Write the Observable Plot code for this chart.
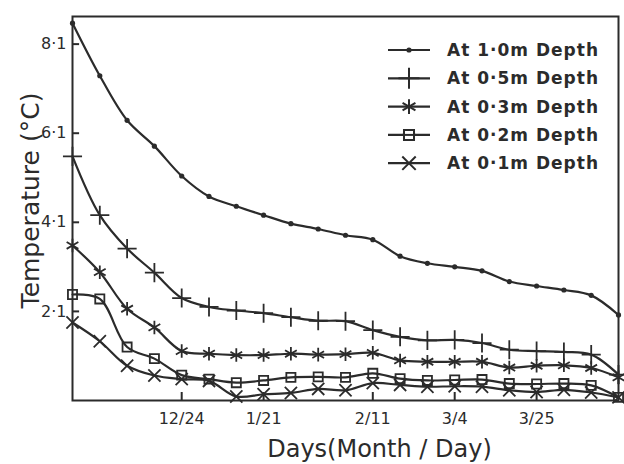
<!DOCTYPE html>
<html>
<head>
<meta charset="utf-8">
<script src="https://cdn.jsdelivr.net/npm/d3@7"></script>
<script src="https://cdn.jsdelivr.net/npm/@observablehq/plot@0.6"></script>
<style>
  body { margin: 0; background: #fff; }
  #wrap { position: relative; width: 624px; height: 464px; overflow: hidden; }
  #legend { position: absolute; left: 380px; top: 30px; }
</style>
</head>
<body>
<div id="wrap"></div>
<script>
// Week index of each measurement (weekly readings)
const week = [0,1,2,3,4,5,6,7,8,9,10,11,12,13,14,15,16,17,18,19,20];

// Temperatures (°C)
const depth10 = [8.57,7.39,6.39,5.81,5.14,4.68,4.46,4.26,4.07,3.95,3.81,3.71,3.34,3.18,3.10,3.01,2.77,2.67,2.58,2.46,2.02];
const depth05 = [5.58,4.26,3.51,2.97,2.40,2.20,2.12,2.06,1.97,1.89,1.88,1.68,1.53,1.45,1.46,1.39,1.24,1.21,1.19,1.13,0.68];
const depth03 = [3.58,2.98,2.16,1.74,1.21,1.15,1.12,1.12,1.15,1.13,1.14,1.17,1.00,0.97,0.97,0.97,0.84,0.88,0.89,0.83,0.62];
const depth02 = [2.48,2.38,1.30,1.04,0.67,0.58,0.50,0.55,0.62,0.63,0.62,0.71,0.59,0.55,0.56,0.57,0.48,0.47,0.48,0.44,0.17];
const depth01 = [1.85,1.43,0.88,0.66,0.58,0.54,0.19,0.24,0.27,0.36,0.33,0.49,0.45,0.41,0.42,0.41,0.33,0.29,0.34,0.28,0.17];

const seriesNames = ["At 1·0m Depth","At 0·5m Depth","At 0·3m Depth","At 0·2m Depth","At 0·1m Depth"];
const seriesSymbols = ["circle","plus","asterisk","square2","times"];
const seriesValues = [depth10, depth05, depth03, depth02, depth01];

// Axis ticks
const xTickPos = [4, 7, 11, 14, 17];
const xTickLabels = ["12/24", "1/21", "2/11", "3/4", "3/25"];
const yTicks = [2.1, 4.1, 6.1, 8.1];
const yTickLabels = ["2·1", "4·1", "6·1", "8·1"];

const ink = "#2b2b2b";
const symR = {circle: 2.6, plus: 6.2, asterisk: 6.4, square2: 5.8, times: 5.6};

const marks = [
  Plot.frame({stroke: ink, strokeWidth: 2}),
  Plot.axisY(yTicks, {tickSize: 0, tickPadding: 6, fontSize: 16, label: null,
    tickFormat: d => yTickLabels[yTicks.indexOf(d)]}),
  Plot.axisX(xTickPos, {tickSize: 0, tickPadding: 12, fontSize: 16, label: null,
    tickFormat: d => xTickLabels[xTickPos.indexOf(d)]}),
  Plot.ruleY(yTicks, {y: d => d, x1: 0, x2: 0.26, stroke: ink, strokeWidth: 2}),
  Plot.ruleX(xTickPos, {x: d => d, y1: 0.1, y2: 0.28, stroke: ink, strokeWidth: 2}),
  Plot.text(["Days(Month / Day)"], {frameAnchor: "bottom", dx: 34, dy: 56, fontSize: 24, fill: ink}),
  Plot.text(["Temperature (°C)"], {frameAnchor: "left", textAnchor: "middle", rotate: -90, dx: -42, dy: -8, fontSize: 25, fill: ink})
];

seriesNames.forEach((name, s) => {
  const rows = week.map((w, i) => ({week: w, temp: seriesValues[s][i], depth: name}));
  marks.push(Plot.line(rows, {x: "week", y: "temp", curve: "catmull-rom", stroke: ink, strokeWidth: 2.2}));
  const sym = seriesSymbols[s];
  if (sym === "circle") {
    marks.push(Plot.dot(rows, {x: "week", y: "temp", r: symR.circle, fill: ink}));
  } else {
    marks.push(Plot.dot(rows, {x: "week", y: "temp", r: symR[sym], symbol: sym, stroke: ink, strokeWidth: 1.8}));
  }
});

const chart = Plot.plot({
  width: 624,
  height: 464,
  marginLeft: 72,
  marginRight: 6,
  marginTop: 16,
  marginBottom: 64,
  x: {domain: [0, 20]},
  y: {domain: [0.1, 8.72]},
  style: {fontFamily: "'DejaVu Sans', sans-serif", background: "#fff", color: ink},
  marks
});
document.getElementById("wrap").appendChild(chart);

// Legend (inside the plot area, upper right)
const symMap = {plus: d3.symbolPlus, asterisk: d3.symbolAsterisk, square2: d3.symbolSquare2, times: d3.symbolTimes};
const lg = d3.select("#wrap").append("svg")
  .attr("id", "legend").attr("width", 244).attr("height", 150)
  .style("font-family", "'DejaVu Sans', sans-serif");
seriesNames.forEach((name, s) => {
  const g = lg.append("g").attr("transform", `translate(0,${20 + s * 28.3})`);
  g.append("line").attr("x1", 8).attr("x2", 50).attr("stroke", ink).attr("stroke-width", 2.2);
  const sym = seriesSymbols[s];
  if (sym === "circle") {
    g.append("circle").attr("cx", 29).attr("r", symR.circle).attr("fill", ink);
  } else {
    const r = symR[sym] * 1.1;
    g.append("path").attr("transform", "translate(29,0)")
      .attr("d", d3.symbol(symMap[sym], Math.PI * r * r)())
      .attr("fill", sym === "square2" ? "#fff" : "none")
      .attr("stroke", ink).attr("stroke-width", 2);
    if (sym === "square2") {
      g.append("line").attr("x1", 22).attr("x2", 36).attr("stroke", ink).attr("stroke-width", 2);
    }
  }
  g.append("text").attr("x", 67).attr("dy", "0.35em")
    .attr("font-size", 17).attr("font-weight", "bold").attr("letter-spacing", 1)
    .attr("fill", ink).text(name);
});
</script>
</body>
</html>
